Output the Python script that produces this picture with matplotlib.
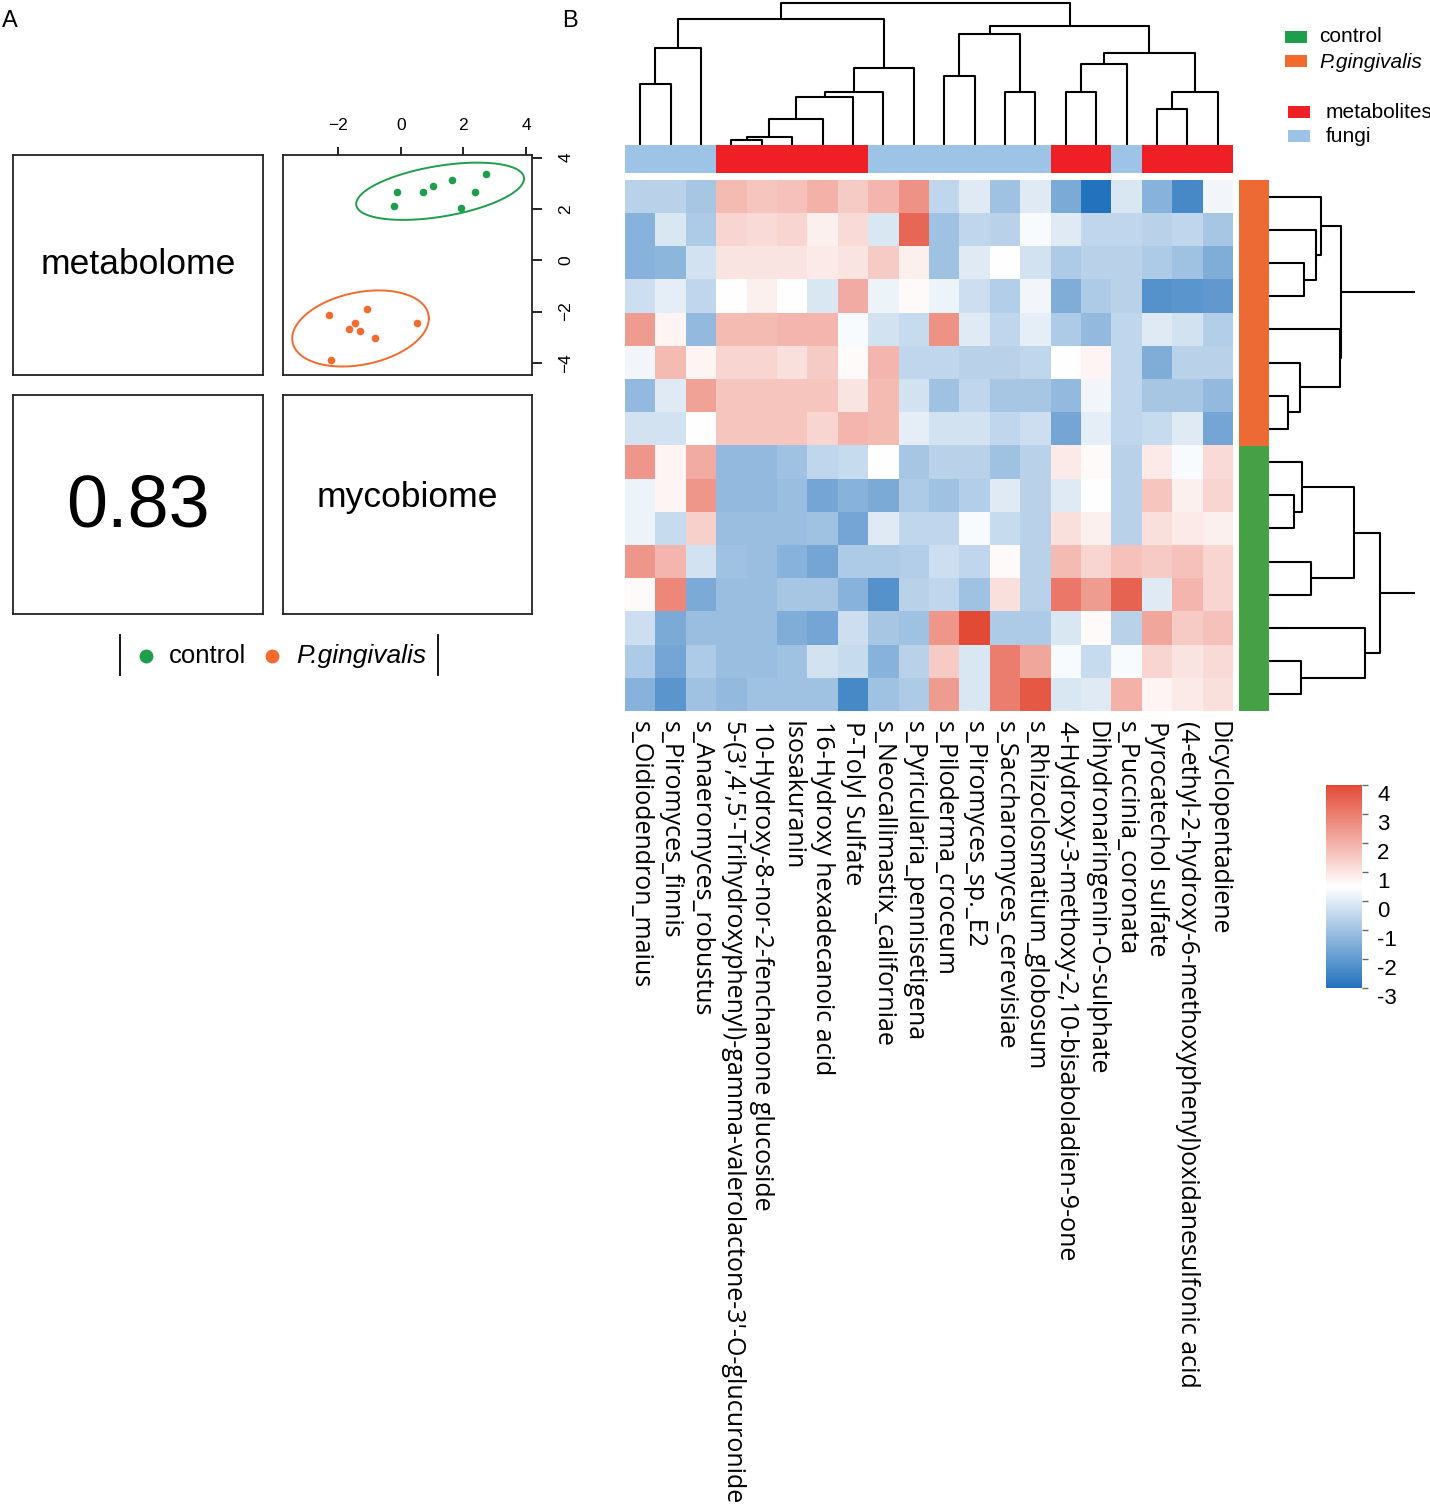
"""Panel A: metabolome vs mycobiome pairs panel; Panel B: clustered correlation heatmap."""
import numpy as np
import matplotlib
matplotlib.use("Agg")
import matplotlib.pyplot as plt
from matplotlib.colors import LinearSegmentedColormap
from matplotlib.patches import Rectangle
from matplotlib.lines import Line2D

W, H = 1430, 1512

# ---------------- data ----------------
features = [
    "s_Oidiodendron_maius", "s_Piromyces_finnis", "s_Anaeromyces_robustus",
    "5-(3',4',5'-Trihydroxyphenyl)-gamma-valerolactone-3'-O-glucuronide",
    "10-Hydroxy-8-nor-2-fenchanone glucoside", "Isosakuranin",
    "16-Hydroxy hexadecanoic acid", "P-Tolyl Sulfate",
    "s_Neocallimastix_californiae", "s_Pyricularia_pennisetigena",
    "s_Piloderma_croceum", "s_Piromyces_sp._E2", "s_Saccharomyces_cerevisiae",
    "s_Rhizoclosmatium_globosum", "4-Hydroxy-3-methoxy-2,10-bisaboladien-9-one",
    "Dihydronaringenin-O-sulphate", "s_Puccinia_coronata", "Pyrocatechol sulfate",
    "(4-ethyl-2-hydroxy-6-methoxyphenyl)oxidanesulfonic acid", "Dicyclopentadiene",
]
feature_type = (["fungi"] * 3 + ["metabolites"] * 5 + ["fungi"] * 6
                + ["metabolites"] * 2 + ["fungi"] + ["metabolites"] * 3)
sample_group = ["P.gingivalis"] * 8 + ["control"] * 8

# scaled abundance, rows = samples in dendrogram order
z_pg = [
    [-0.6, -0.6, -0.9, 1.8, 1.6, 1.7, 2.0, 1.5, 1.9, 2.6, -0.5, 0.0, -1.0, 0.0, -1.6, -3.0, -0.1, -1.4, -2.4, 0.3],
    [-1.4, -0.1, -0.8, 1.3, 1.2, 1.3, 0.8, 1.2, -0.1, 3.4, -1.0, -0.5, -0.6, 0.4, 0.0, -0.5, -0.5, -0.6, -0.5, -0.9],
    [-1.4, -1.3, -0.2, 1.0, 1.0, 1.0, 0.9, 1.0, 1.5, 0.8, -1.0, 0.0, 0.5, -0.2, -0.8, -0.6, -0.6, -0.8, -1.0, -1.5],
    [-0.3, 0.1, -0.5, 0.5, 0.8, 0.5, -0.1, 2.1, 0.2, 0.6, 0.2, -0.3, -0.7, 0.3, -1.5, -0.8, -0.6, -2.2, -2.1, -2.0],
    [2.4, 0.7, -1.2, 1.8, 1.8, 1.9, 1.9, 0.4, -0.2, -0.4, 2.6, 0.0, -0.5, 0.1, -0.8, -1.2, -0.5, 0.0, -0.2, -0.7],
    [0.3, 1.8, 0.7, 1.3, 1.3, 1.1, 1.5, 0.6, 1.9, -0.5, -0.5, -0.6, -0.6, -0.5, 0.5, 0.7, -0.5, -1.5, -0.6, -0.6],
    [-1.2, 0.0, 2.3, 1.6, 1.6, 1.6, 1.6, 1.0, 1.8, -0.2, -1.0, -0.5, -0.9, -0.9, -1.2, 0.3, -0.5, -0.9, -0.9, -1.2],
    [-0.2, -0.2, 0.5, 1.6, 1.6, 1.6, 1.3, 1.9, 1.8, 0.1, -0.2, -0.2, -0.5, -0.3, -1.7, 0.1, -0.5, -0.4, 0.0, -1.7],
]
z_ctrl = [
    [2.5, 0.7, 2.1, -1.2, -1.2, -1.0, -0.5, -0.4, 0.5, -0.9, -0.6, -0.6, -1.0, -0.6, 0.9, 0.6, -0.6, 0.9, 0.4, 1.2],
    [0.2, 0.7, 2.5, -1.2, -1.2, -1.1, -1.7, -1.4, -1.6, -0.8, -1.0, -0.7, 0.0, -0.6, 0.0, 0.5, -0.6, 1.6, 0.8, 1.3],
    [0.2, -0.4, 1.4, -1.1, -1.1, -1.1, -1.0, -1.7, 0.0, -0.5, -0.5, 0.4, -0.4, -0.6, 1.1, 0.8, -0.6, 1.1, 0.9, 0.8],
    [2.5, 1.9, -0.2, -1.0, -1.1, -1.4, -1.7, -0.8, -0.8, -0.7, -0.3, -0.5, 0.6, -0.6, 1.8, 1.3, 1.7, 1.5, 1.7, 1.3],
    [0.6, 2.8, -1.6, -1.1, -1.1, -0.9, -0.9, -1.4, -2.2, -0.6, -0.5, -1.0, 1.1, -0.6, 3.1, 2.4, 3.5, 0.0, 1.9, 1.3],
    [-0.3, -1.6, -1.1, -1.1, -1.1, -1.5, -1.7, -0.3, -0.9, -1.0, 2.5, 4.0, -0.8, -0.8, -0.1, 0.6, -0.6, 2.2, 1.5, 1.7],
    [-0.8, -1.7, -0.8, -1.1, -1.1, -1.0, -0.2, -0.4, -1.4, -0.6, 1.5, -0.1, 3.0, 2.2, 0.4, -0.4, 0.4, 1.3, 1.0, 1.2],
    [-1.4, -2.1, -1.0, -1.2, -1.0, -1.0, -1.0, -2.4, -1.0, -0.8, 2.4, -0.1, 3.0, 3.7, -0.1, 0.0, 2.0, 0.7, 0.9, 1.1],
]

# dendrograms: (child_a, child_b, height); leaves are 0..n-1, new nodes follow
col_merges = [(3, 4, 15), (20, 5, 24), (21, 6, 77), (22, 7, 143), (23, 8, 158),
              (24, 9, 232), (0, 1, 183), (26, 2, 292), (27, 25, 379),
              (10, 11, 208), (12, 13, 159), (29, 30, 333), (14, 15, 159),
              (32, 16, 242), (17, 18, 107), (34, 19, 160), (33, 35, 277),
              (31, 36, 357), (28, 37, 427)]
row_merges = [(2, 3, 104), (1, 16, 140), (0, 17, 155), (6, 7, 57), (5, 19, 94),
              (4, 20, 212), (18, 21, 217), (9, 10, 74), (8, 23, 100),
              (11, 12, 127), (24, 25, 254), (14, 15, 95), (13, 27, 287),
              (26, 28, 334), (22, 29, 900)]

# ordination scores for panel A
ctrl_x = [-0.13, -0.21, 0.70, 1.04, 1.64, 2.72, 2.36, 1.93]
ctrl_y = [2.66, 2.11, 2.66, 2.88, 3.13, 3.37, 2.65, 2.04]
pg_x = [-2.28, -1.07, -1.46, -1.64, -1.30, -0.82, 0.52, -2.23]
pg_y = [-2.15, -1.90, -2.45, -2.67, -2.74, -3.01, -2.45, -3.89]
corr_value = "0.83"
key_ticks = [-3, -2, -1, 0, 1, 2, 3, 4]

# ---------------- styling ----------------
GREEN = "#1E9E4A"
ORANGE = "#F26A2D"
BAR_GREEN = "#45A046"
BAR_ORANGE = "#EE6A35"
MET_RED = "#EE1F25"
FUN_BLUE = "#9DC3E6"
SANS = ["Liberation Sans", "DejaVu Sans"]
LABEL_FONT = ["Open Sans", "DejaVu Sans"]
plt.rcParams["font.family"] = SANS

fig = plt.figure(figsize=(W / 100, H / 100), dpi=100)


def px_axes(x0, y0, x1, y1):
    return fig.add_axes([x0 / W, 1 - y1 / H, (x1 - x0) / W, (y1 - y0) / H])


def fx(x):
    return x / W


def fy(y):
    return 1 - y / H


def draw_dendro(ax, merges, n, side):
    pos = {i: float(i) for i in range(n)}
    hgt = {i: 0.0 for i in range(n)}
    for k, (a, b, h) in enumerate(merges):
        p = [pos[a], pos[a], pos[b], pos[b]]
        q = [hgt[a], h, h, hgt[b]]
        if side == "top":
            ax.plot(p, q, color="black", lw=1.5, solid_capstyle="butt")
        else:
            ax.plot(q, p, color="black", lw=1.5, solid_capstyle="butt")
        pos[n + k] = (pos[a] + pos[b]) / 2
        hgt[n + k] = h
    ax.axis("off")


# ---------------- panel A ----------------
fig.text(fx(2), fy(21), "A", fontsize=17, va="center", ha="left")
fig.text(fx(562), fy(21), "B", fontsize=17, va="center", ha="left")

boxes = {"tl": (13, 155, 263, 375), "tr": (283, 155, 532, 375),
         "bl": (13, 395, 263, 614), "br": (283, 395, 532, 614)}
for key, rect in boxes.items():
    ax = px_axes(*rect)
    for sp in ax.spines.values():
        sp.set_linewidth(1.3)
        sp.set_color("#222222")
    if key != "tr":
        ax.set_xticks([])
        ax.set_yticks([])
    if key == "tl":
        ax.text(0.5, 0.5, "metabolome", fontsize=25.5, ha="center", va="center", transform=ax.transAxes)
    elif key == "br":
        ax.text(0.5, 0.53, "mycobiome", fontsize=25.5, ha="center", va="center", transform=ax.transAxes)
    elif key == "bl":
        ax.text(0.5, 0.49, corr_value, fontsize=53, ha="center", va="center", transform=ax.transAxes)
    else:
        sc_ax = ax

t = np.linspace(0, 2 * np.pi, 200)
for xs, ys, col in [(ctrl_x, ctrl_y, GREEN), (pg_x, pg_y, ORANGE)]:
    xs, ys = np.array(xs), np.array(ys)
    sc_ax.scatter(xs, ys, s=30, color=col, zorder=3, linewidths=0)
    cov = np.cov(xs, ys)
    L = np.linalg.cholesky(cov)
    r = np.sqrt(5.991)
    ell = L @ np.vstack([np.cos(t), np.sin(t)]) * r
    sc_ax.plot(xs.mean() + ell[0], ys.mean() + ell[1], color=col, lw=1.4)
sc_ax.set_xlim(-3.76, 4.19)
sc_ax.set_ylim(-4.47, 4.1)
sc_ax.xaxis.tick_top()
sc_ax.yaxis.tick_right()
sc_ax.set_xticks([-2, 0, 2, 4])
sc_ax.set_yticks([-4, -2, 0, 2, 4])
sc_ax.tick_params(axis="x", length=6, width=1.2, pad=10, labelsize=12.5)
sc_ax.tick_params(axis="y", length=7, width=1.2, pad=12, labelsize=12.5)
for lab in sc_ax.get_yticklabels():
    lab.set_rotation(90)
    lab.set_va("center")

# legend below panel A
for xb in (120, 438):
    fig.add_artist(Line2D([fx(xb), fx(xb)], [fy(635), fy(675)], color="black", lw=1.3))
fig.add_artist(Line2D([fx(146)], [fy(656)], marker="o", ms=10, color=GREEN, lw=0, mew=0))
fig.add_artist(Line2D([fx(272)], [fy(656)], marker="o", ms=10, color=ORANGE, lw=0, mew=0))
fig.text(fx(169), fy(656), "control", fontsize=18.5, va="center", ha="left")
fig.text(fx(296), fy(656), "P.gingivalis", fontsize=19, va="center", ha="left", style="italic")

# ---------------- panel B ----------------
z = np.array(z_pg + z_ctrl)
n_rows, n_cols = z.shape
cmap = LinearSegmentedColormap.from_list("bwr_ph", [(0, "#2372BD"), (0.5, "white"), (1, "#E34A35")])

hm = px_axes(625, 180, 1233, 711)
im = hm.imshow(z, cmap=cmap, vmin=-3, vmax=4, aspect="auto", interpolation="nearest")
hm.set_xlim(-0.5, n_cols - 0.5)
hm.set_ylim(n_rows - 0.5, -0.5)
hm.set_yticks([])
hm.set_xticks(range(n_cols))
hm.set_xticklabels(features, rotation=270, ha="center", va="top",
                   fontsize=18, family=LABEL_FONT)
hm.tick_params(axis="x", length=0, pad=7)
for sp in hm.spines.values():
    sp.set_visible(False)

# column annotation bar
type_color = {"metabolites": MET_RED, "fungi": FUN_BLUE}
ca = px_axes(625, 145, 1233, 173)
for i, ft in enumerate(feature_type):
    ca.add_patch(Rectangle((i - 0.5, 0), 1, 1, color=type_color[ft], lw=0))
ca.set_xlim(-0.5, n_cols - 0.5)
ca.set_ylim(0, 1)
ca.axis("off")

# row annotation bar
group_color = {"P.gingivalis": BAR_ORANGE, "control": BAR_GREEN}
ra = px_axes(1239, 180, 1269, 711)
for j, g in enumerate(sample_group):
    ra.add_patch(Rectangle((0, j - 0.5), 1, 1, color=group_color[g], lw=0))
ra.set_ylim(n_rows - 0.5, -0.5)
ra.set_xlim(0, 1)
ra.axis("off")

# dendrograms
cd = px_axes(625, 1, 1233, 145)
draw_dendro(cd, col_merges, n_cols, "top")
cd.set_xlim(-0.5, n_cols - 0.5)
cd.set_ylim(0, 432)

rd = px_axes(1269, 180, 1415, 711)
draw_dendro(rd, row_merges, n_rows, "right")
rd.set_ylim(n_rows - 0.5, -0.5)
rd.set_xlim(0, 438)

# colour key
cax = px_axes(1326, 785, 1362, 988)
cb = fig.colorbar(im, cax=cax, ticks=key_ticks)
cb.set_ticklabels([str(v) for v in key_ticks])
cb.outline.set_visible(False)
cax.tick_params(length=4, width=1, color="#666666", labelsize=16, pad=7)
for lab in cax.get_yticklabels():
    lab.set_va("top")

# top-right legend
legend_rows = [
    (1285, 31, GREEN, "control", "normal", 1319, 37),
    (1285, 55, ORANGE, "P.gingivalis", "italic", 1319, 63),
    (1288, 106, MET_RED, "metabolites", "normal", 1326, 112),
    (1288, 130, FUN_BLUE, "fungi", "normal", 1326, 137),
]
for x0, y0, col, txt, sty, tx, ty in legend_rows:
    fig.add_artist(Rectangle((fx(x0), fy(y0 + 12)), 22 / W, 12 / H, color=col, lw=0,
                             transform=fig.transFigure))
    fig.text(fx(tx), fy(ty), txt, fontsize=15, va="center", ha="left", style=sty)

fig.savefig("out.png", dpi=100)
